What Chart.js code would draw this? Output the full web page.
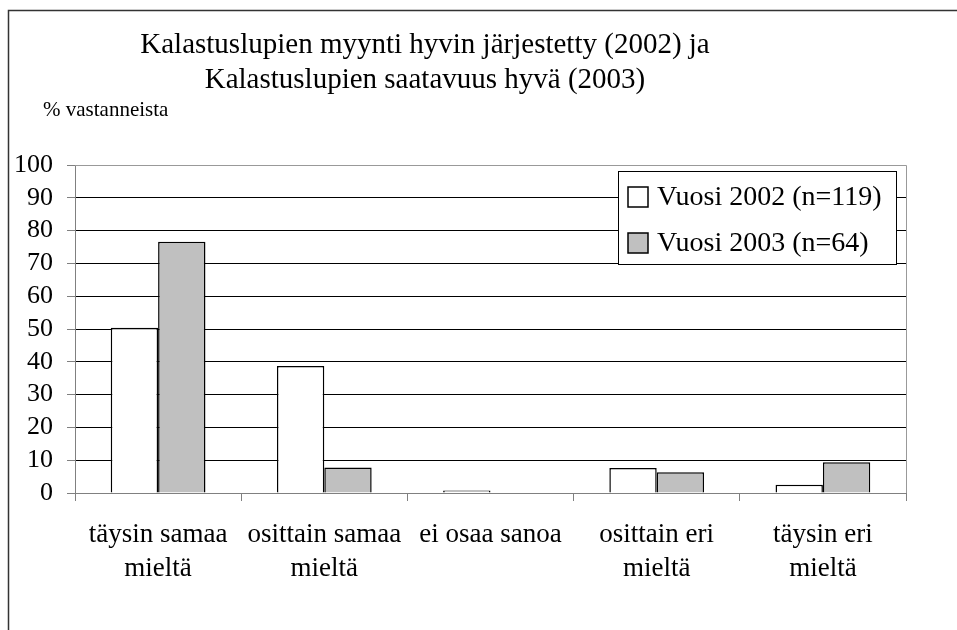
<!DOCTYPE html>
<html>
<head>
    <title>Kalastuslupien myynti</title>
    <script src="https://cdn.jsdelivr.net/npm/chart.js"></script>
    <style>
        body { margin: 0; background: #fff; }
    </style>
</head>
<body>
    <canvas id="lupaChart" width="957" height="630"></canvas>

    <script>
        // data
        const kategoriat = [
            ['täysin samaa', 'mieltä'],
            ['osittain samaa', 'mieltä'],
            ['ei osaa sanoa'],
            ['osittain eri', 'mieltä'],
            ['täysin eri', 'mieltä']
        ];
        const vuosi2002 = [50.4, 38.7, 0.8, 7.6, 2.5];
        const vuosi2003 = [76.6, 7.8, 0, 6.3, 9.4];
        const sarjaNimet = ['Vuosi 2002 (n=119)', 'Vuosi 2003 (n=64)'];
        const otsikko = ['Kalastuslupien myynti hyvin järjestetty (2002) ja', 'Kalastuslupien saatavuus hyvä (2003)'];
        const yOtsikko = '% vastanneista';

        const serif = '"Liberation Serif", "Times New Roman", serif';

        const extras = {
            id: 'extras',
            beforeDraw(chart) {
                const c = chart.ctx;
                c.save();
                c.fillStyle = '#fff';
                c.fillRect(0, 0, chart.width, chart.height);
                // outer frame
                c.strokeStyle = '#333';
                c.lineWidth = 1.5;
                c.beginPath();
                c.moveTo(8.5, chart.height);
                c.lineTo(8.5, 10.5);
                c.lineTo(chart.width, 10.5);
                c.stroke();
                c.restore();
            },
            afterDraw(chart) {
                const c = chart.ctx;
                const a = chart.chartArea;
                c.save();
                // plot border top & right
                c.strokeStyle = '#999';
                c.lineWidth = 1;
                c.beginPath();
                c.moveTo(a.left, a.top + 0.5);
                c.lineTo(a.right + 0.5, a.top + 0.5);
                c.lineTo(a.right + 0.5, a.bottom);
                c.stroke();

                // title
                c.fillStyle = '#000';
                c.textAlign = 'center';
                c.textBaseline = 'middle';
                c.font = '29px ' + serif;
                c.fillText(otsikko[0], 425, 45);
                c.fillText(otsikko[1], 425, 80);

                c.textAlign = 'left';
                c.font = '21px ' + serif;
                c.fillText(yOtsikko, 43, 110);

                // legend
                const lx = 618, ly = 171, lw = 278, lh = 93;
                c.fillStyle = '#fff';
                c.fillRect(lx, ly, lw, lh);
                c.strokeStyle = '#000';
                c.strokeRect(lx + 0.5, ly + 0.5, lw, lh);
                c.font = '28px ' + serif;
                chart.data.datasets.forEach((ds, i) => {
                    const cy = ly + 26 + i * 46;
                    c.fillStyle = ds.backgroundColor;
                    c.fillRect(628, cy - 10, 20, 20);
                    c.strokeStyle = '#000';
                    c.lineWidth = 1.5;
                    c.strokeRect(628, cy - 10, 20, 20);
                    c.fillStyle = '#000';
                    c.fillText(ds.label, 657, cy + 1);
                });
                c.restore();
            }
        };

        const ctx = document.getElementById('lupaChart').getContext('2d');
        const lupaChart = new Chart(ctx, {
            type: 'bar',
            data: {
                labels: kategoriat,
                datasets: [{
                    label: sarjaNimet[0],
                    data: vuosi2002,
                    backgroundColor: '#ffffff',
                    borderColor: '#000',
                    borderWidth: 1.5,
                    borderSkipped: 'bottom',
                    barPercentage: 1,
                    categoryPercentage: 0.57
                }, {
                    label: sarjaNimet[1],
                    data: vuosi2003,
                    backgroundColor: '#c0c0c0',
                    borderColor: '#000',
                    borderWidth: 1.5,
                    borderSkipped: 'bottom',
                    barPercentage: 1,
                    categoryPercentage: 0.57
                }]
            },
            options: {
                responsive: false,
                animation: false,
                layout: { padding: { top: 165, right: 51, bottom: 37, left: 0 } },
                plugins: {
                    legend: { display: false },
                    title: { display: false },
                    tooltip: { enabled: false }
                },
                scales: {
                    x: {
                        afterFit(scale) { scale.height = 100; },
                        grid: {
                            offset: true,
                            drawOnChartArea: false,
                            drawTicks: true,
                            tickLength: 8,
                            color: '#808080'
                        },
                        border: { color: '#808080' },
                        ticks: {
                            color: '#000',
                            padding: 17,
                            maxRotation: 0,
                            autoSkip: false,
                            font: { family: serif, size: 27, lineHeight: 1.25 }
                        }
                    },
                    y: {
                        min: 0,
                        max: 100,
                        afterFit(scale) { scale.width = 75; },
                        ticks: {
                            stepSize: 10,
                            autoSkip: false,
                            color: '#000',
                            padding: 14,
                            font: { family: serif, size: 26, lineHeight: 1 }
                        },
                        grid: {
                            color: (c) => c.tick && c.tick.value === 100 ? '#999' : '#000',
                            tickLength: 8,
                            tickColor: '#808080'
                        },
                        border: { color: '#808080' }
                    }
                }
            },
            plugins: [extras]
        });
    </script>
</body>
</html>
